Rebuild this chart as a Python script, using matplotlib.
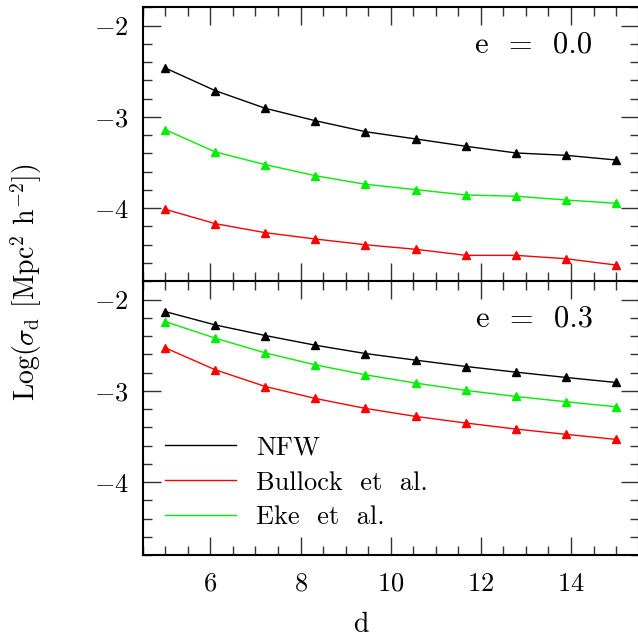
import matplotlib
matplotlib.use("Agg")
import matplotlib.pyplot as plt
from matplotlib.ticker import MultipleLocator

plt.rcParams['font.family'] = ['cmr10', 'DejaVu Serif']
plt.rcParams['mathtext.fontset'] = 'cm'
plt.rcParams['axes.formatter.use_mathtext'] = True

# distance d
d_vals = [5.0, 6.11, 7.22, 8.33, 9.44, 10.56, 11.67, 12.78, 13.89, 15.0]

# e = 0.0
nfw_e0 = [-2.465, -2.713, -2.906, -3.042, -3.162, -3.242, -3.322, -3.395, -3.421, -3.472]
bullock_e0 = [-4.012, -4.169, -4.268, -4.337, -4.400, -4.450, -4.516, -4.516, -4.553, -4.622]
eke_e0 = [-3.140, -3.384, -3.523, -3.644, -3.738, -3.797, -3.855, -3.869, -3.910, -3.946]

# e = 0.3
nfw_e3 = [-2.132, -2.278, -2.394, -2.500, -2.591, -2.664, -2.733, -2.795, -2.853, -2.908]
bullock_e3 = [-2.529, -2.769, -2.952, -3.083, -3.192, -3.280, -3.352, -3.418, -3.476, -3.531]
eke_e3 = [-2.241, -2.423, -2.584, -2.715, -2.824, -2.915, -2.995, -3.061, -3.119, -3.174]

labels = ['NFW', 'Bullock  et  al.', 'Eke  et  al.']
colors = ['black', '#ff0000', '#00ee00']
panel_text = ['e  =  0.0', 'e  =  0.3']

fig = plt.figure(figsize=(6.38, 6.39), dpi=100)
left, right = 0.2237, 1.001
top, mid, bottom = 0.9886, 0.5598, 0.1310
ax_top = fig.add_axes([left, mid, right - left, top - mid])
ax_bot = fig.add_axes([left, bottom, right - left, mid - bottom])

panels = [
    (ax_top, [nfw_e0, bullock_e0, eke_e0], panel_text[0]),
    (ax_bot, [nfw_e3, bullock_e3, eke_e3], panel_text[1]),
]

for ax, series, txt in panels:
    for ys, c, lab in zip(series, colors, labels):
        ax.plot(d_vals, ys, '-', color=c, lw=1.0, label=lab)
        ax.plot(d_vals, ys, '^', color=c, ms=6, mec=c)
    ax.set_xlim(4.5, 15.5)
    ax.set_ylim(-4.8, -1.8)
    ax.xaxis.set_major_locator(MultipleLocator(2))
    ax.xaxis.set_minor_locator(MultipleLocator(0.5))
    ax.yaxis.set_major_locator(MultipleLocator(1))
    ax.yaxis.set_minor_locator(MultipleLocator(0.2))
    ax.tick_params(which='both', direction='in', top=True, right=True,
                   width=1.0, color='#333333', labelsize=19, pad=10)
    ax.tick_params(axis='x', pad=12)
    ax.tick_params(which='major', length=13)
    ax.tick_params(which='minor', length=6.5)
    for sp in ax.spines.values():
        sp.set_linewidth(1.5)
    ax.text(0.907, 0.862, txt, transform=ax.transAxes, ha='right',
            va='center', fontsize=22)

ax_top.tick_params(labelbottom=False)

# legend with lines only
handles = ax_bot.get_lines()[0::2]
ax_bot.legend(handles, labels, loc='center left', bbox_to_anchor=(0.045, 0.265),
              frameon=False, fontsize=19, handlelength=2.7, handletextpad=0.75,
              labelspacing=0.42, borderpad=0, borderaxespad=0)

ax_bot.set_xlabel('d', fontsize=20)
ax_bot.xaxis.set_label_coords(0.44, -0.205)

fig.text(26 / 638, 1 - 282 / 639, r'Log($\sigma_{\rm d}$ [Mpc$^2$ h$^{-2}$])',
         rotation=90, ha='center', va='center', fontsize=20)

fig.savefig('out.png', dpi=100)
